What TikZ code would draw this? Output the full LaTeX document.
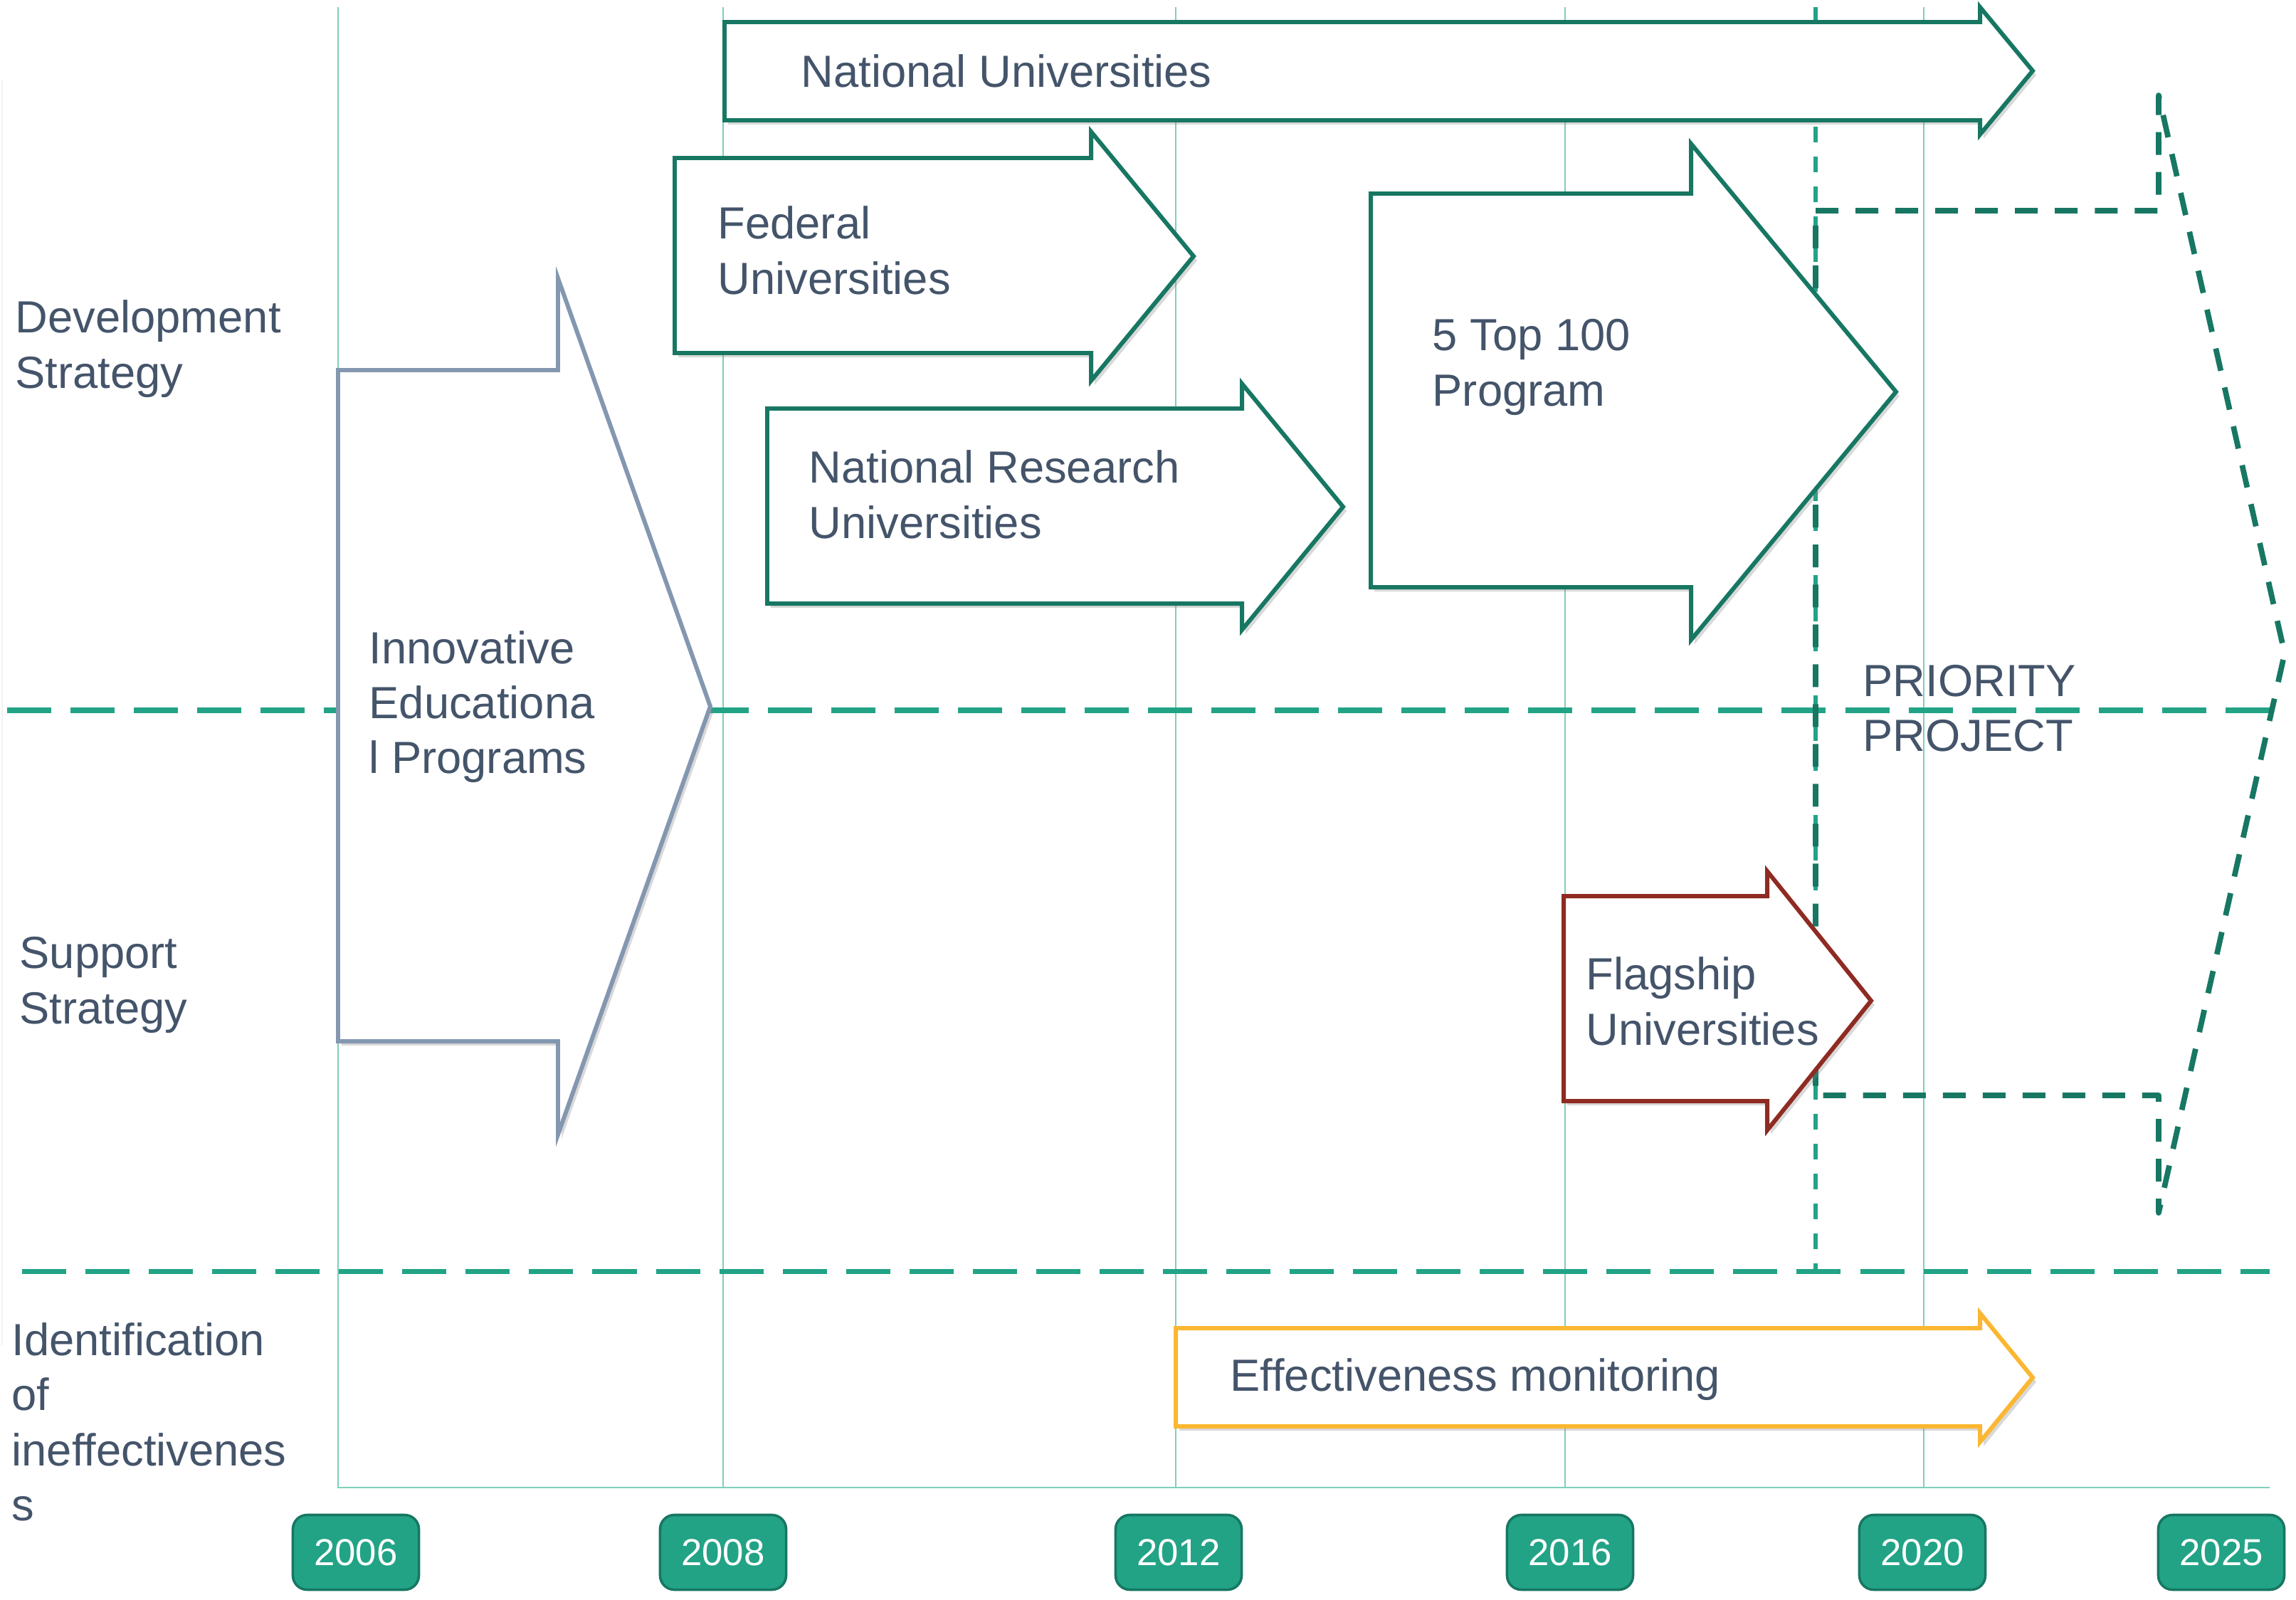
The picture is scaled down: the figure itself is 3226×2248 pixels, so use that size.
\documentclass[tikz,border=0pt]{standalone}
\usepackage{fontspec}
\setmainfont{Liberation Sans}
\usetikzlibrary{shadows}

\definecolor{ink}{HTML}{44546A}
\definecolor{pine}{HTML}{177762}
\definecolor{sea}{HTML}{22A386}
\definecolor{mint}{HTML}{7FCFBA}
\definecolor{slate}{HTML}{8497B0}
\definecolor{brick}{HTML}{8E2B22}
\definecolor{amber}{HTML}{FBB731}

% block arrow: style, left, shaft end, tip, top, bottom, head top, head bottom
\newcommand{\blockarrow}[8]{%
  \draw[#1] (#2,#5) -- (#3,#5) -- (#3,#7) -- (#4,{(#7+#8)/2}) -- (#3,#8) -- (#3,#6) -- (#2,#6) -- cycle;}

\begin{document}
\begin{tikzpicture}[x=0.01cm, y=-0.01cm,
  grid/.style = {mint, line width=0.6pt},
  band/.style = {sea, line width=2pt, dash pattern=on 0.62cm off 0.27cm},
  prio/.style = {pine, line width=2.2pt, line join=round, dash pattern=on 0.32cm off 0.24cm},
  prioline/.style = {sea, line width=1.5pt, dash pattern=on 0.22cm off 0.2cm},
  blk/.style = {line width=1.7pt, fill=white, line join=miter,
    drop shadow={opacity=0.3, shadow xshift=0.05cm, shadow yshift=-0.06cm}},
  txt/.style = {font=\fontsize{18}{22}\selectfont, text=ink, align=left, inner sep=0pt, anchor=west},
  year/.style = {draw=pine, fill=sea, line width=1pt, rounded corners=0.2cm,
    minimum width=1.77cm, minimum height=1.05cm, text=white, font=\fontsize{15}{18}\selectfont}]
\useasboundingbox (0,0) rectangle (3226,2248);

% grid
\draw[black!5, line width=0.8pt] (3,113) -- (3,1890);
\foreach \gx in {1016,1652,2199,2703}
  \draw[grid] (\gx,10) -- (\gx,2090);
\draw[grid] (475,10) -- (475,2090) -- (3189,2090);

% bands
\draw[band] (10,998) -- (3189,998);
\draw[band] (31,1786) -- (3189,1786);

% priority project
\draw[prioline] (2551,10) -- (2551,1786);
\draw[prio] (2551,296) -- (3033,296) -- (3033,134) -- (3210,918) -- (3033,1704) -- (3033,1539) -- (2551,1539) -- cycle;
\node[txt] (prio) at (2617,995) {PRIORITY\\PROJECT};

% arrows
\blockarrow{blk, draw=slate}{475}{784}{998}{520}{1463}{391}{1594}
\blockarrow{blk, draw=pine}{1018}{2782}{2856}{31}{169}{10}{189}
\blockarrow{blk, draw=pine}{948}{1533}{1677}{222}{496}{185}{535}
\blockarrow{blk, draw=pine}{1078}{1745}{1887}{574}{848}{539}{885}
\blockarrow{blk, draw=pine}{1926}{2376}{2664}{272}{825}{202}{899}
\blockarrow{blk, draw=brick}{2197}{2483}{2629}{1259}{1547}{1224}{1588}
\blockarrow{blk, draw=amber}{1652}{2782}{2856}{1866}{2004}{1845}{2026}

\node[txt] (iep) at (518,993) {Innovative\\Educationa\\l Programs};
\node[txt] (natu) at (1125,100) {National Universities};
\node[txt] (fedu) at (1008,352) {Federal\\Universities};
\node[txt] (nru) at (1136,695) {National Research\\Universities};
\node[txt] (top) at (2012,516) {5 Top 100\\Program};
\node[txt] (flag) at (2228,1407) {Flagship\\Universities};
\node[txt] (eff) at (1728,1938) {Effectiveness monitoring};

% rows
\node[txt] (dev) at (21,490) {Development\\Strategy};
\node[txt] (sup) at (27,1384) {Support\\Strategy};
\node[txt] (ident) at (16,1998) {Identification\\of\\ineffectivenes\\s};

% years
\node[year] (y06) at (500,2181) {2006};
\node[year] (y08) at (1016,2181) {2008};
\node[year] (y12) at (1656,2181) {2012};
\node[year] (y16) at (2206,2181) {2016};
\node[year] (y20) at (2701,2181) {2020};
\node[year] (y25) at (3121,2181) {2025};
\end{tikzpicture}
\end{document}
